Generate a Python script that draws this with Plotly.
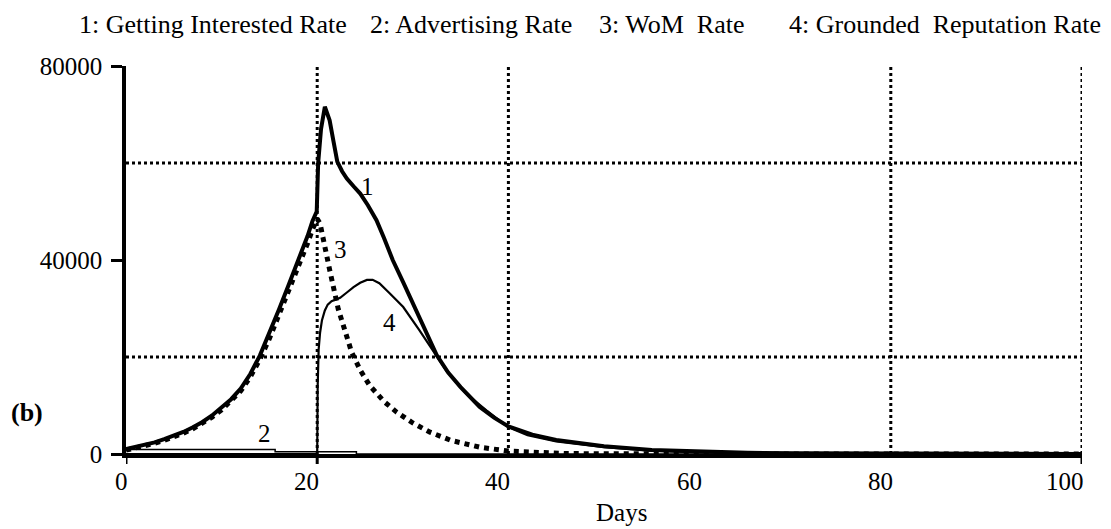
import plotly.graph_objects as go

# ---------------- data ----------------
days_interest = [0, 1, 2, 3, 4, 5, 6, 7, 8, 9, 10, 11, 12, 13, 14, 15, 16, 17, 18, 19, 19.5, 19.95,
                 20.1, 20.4, 20.8, 21.3, 21.7, 22.1, 22.6, 23.1, 23.8, 24.5, 25.3, 26.2, 27, 27.9,
                 29, 30, 31.2, 32.5, 33.7, 35, 37, 38.5, 40, 42.5,
                 45, 47.5, 50, 55, 60, 65, 70, 80, 90, 100]
getting_interested = [1000, 1400, 1850, 2400, 3050, 3750, 4550, 5500, 6600, 7950, 9500, 11300, 13500,
                      16500, 20300, 24800, 29800, 34800, 39800, 45000, 48000, 50000,
                      60000, 67000, 71600, 68800, 64500, 60300, 58300, 56800, 55200, 53700, 51300,
                      48200, 44500, 40000, 35400, 31000, 25700, 20400, 16800, 13800, 9700, 7500,
                      5700, 4000, 2900, 2200, 1600, 850, 450, 250, 130, 40, 15, 5]

days_adv = [0, 15.6, 15.6, 24.1, 24.1, 100]
advertising = [950, 950, 450, 450, 0, 0]

days_wom = [0, 1, 2, 3, 4, 5, 6, 7, 8, 9, 10, 11, 12, 13, 14, 15, 16, 17, 18, 19, 19.5, 20,
            20.3, 20.7, 21, 21.3, 22.2, 23, 23.6, 24.5, 25.5, 27, 28.3, 30, 31.8, 34, 37, 40,
            43, 46, 50, 60, 100]
wom = [800, 1200, 1650, 2200, 2800, 3500, 4300, 5200, 6300, 7600, 9100, 10900, 13000, 15900, 19500,
       23800, 28600, 33500, 38500, 43500, 46300, 48500,
       47500, 44000, 41600, 38000, 29900, 24500, 21000, 17300, 14100, 10800, 8650, 6400, 4500,
       2800, 1400, 600, 250, 100, 40, 5, 0]

days_grounded = [0, 20, 20.05, 20.15, 20.3, 20.5, 20.8, 21.1, 21.5, 22.4, 23.1, 23.8, 24.5, 25.2, 25.8,
                 26.5, 27.6, 29, 30.7, 32.1, 33.5, 35.6, 37.7, 40, 42, 45, 50, 55, 60, 70, 100]
grounded = [0, 0, 14000, 21500, 25000, 27600, 29600, 30800, 31500, 32200, 33300, 34400, 35300, 35900,
            35900, 35200, 33100, 30300, 25500, 21400, 17200, 12400, 9000, 5500, 3900, 2600, 1400,
            700, 350, 80, 10]

legend_items = ["1: Getting Interested Rate", "2: Advertising Rate",
                "3: WoM  Rate", "4: Grounded  Reputation Rate"]
x_tick_vals = [0, 20, 40, 60, 80, 100]
y_tick_vals = [0, 40000, 80000]
y_tick_text = ["0", "40000", "80000"]
x_grid = [20, 40, 80, 100]
y_grid = [20000, 60000]

# ---------------- figure ----------------
SERIF = "Liberation Serif"
W, H = 1111, 529
ML, MR, MT, MB = 126, 29, 66, 75
plot_w = W - ML - MR
plot_h = H - MT - MB

fig = go.Figure()

fig.add_trace(go.Scatter(x=days_adv, y=advertising, mode="lines",
                         line=dict(color="black", width=1.5), name="2"))
fig.add_trace(go.Scatter(x=days_wom, y=wom, mode="lines",
                         line=dict(color="black", width=5, dash="5px,5px"), name="3"))
fig.add_trace(go.Scatter(x=days_grounded, y=grounded, mode="lines",
                         line=dict(color="black", width=2.2), name="4"))
fig.add_trace(go.Scatter(x=days_interest, y=getting_interested, mode="lines",
                         line=dict(color="black", width=4), name="1"))

# dotted grid
shapes = []
for g in x_grid:
    shapes.append(dict(type="line", xref="x", yref="y", x0=g, x1=g, y0=0, y1=80000,
                       line=dict(color="black", width=3, dash="3px,3px"), layer="below"))
for g in y_grid:
    shapes.append(dict(type="line", xref="x", yref="y", x0=0, x1=100, y0=g, y1=g,
                       line=dict(color="black", width=3, dash="3px,3px"), layer="below"))

annotations = []
# x tick labels, right-aligned to their ticks
for v in x_tick_vals:
    annotations.append(dict(x=v, xref="x", y=0, yref="paper", text=str(v), showarrow=False,
                            xanchor="right", yanchor="top", xshift=4, yshift=-12,
                            font=dict(family=SERIF, size=25, color="black")))
annotations.append(dict(x=(621 - ML) / plot_w, xref="paper", y=0, yref="paper", text="Days",
                        showarrow=False, xanchor="center", yanchor="middle", yshift=-58,
                        font=dict(family=SERIF, size=25, color="black")))
annotations.append(dict(x=(27 - ML) / plot_w, xref="paper", y=(H - MB - 412) / plot_h, yref="paper",
                        text="<b>(b)</b>", showarrow=False, xanchor="center", yanchor="middle",
                        font=dict(family=SERIF, size=26, color="black")))
# top legend line
legend_y = 1 + (MT - 25) / plot_h
for txt, px, anchor in zip(legend_items, [77, 368, 597, 1103], ["left", "left", "left", "right"]):
    annotations.append(dict(x=(px - ML) / plot_w, xref="paper", y=legend_y, yref="paper",
                            text=txt, showarrow=False, xanchor=anchor, yanchor="middle",
                            font=dict(family=SERIF, size=26, color="black")))
# curve number labels
for txt, dx, dy in [("1", 25.3, 55100), ("2", 14.5, 4200), ("3", 22.4, 42200), ("4", 27.6, 27200)]:
    annotations.append(dict(x=dx, y=dy, xref="x", yref="y", text=txt, showarrow=False,
                            xanchor="center", yanchor="middle",
                            font=dict(family=SERIF, size=25, color="black")))

# x tick marks at 0, 20, 100
for v in [0, 20, 100]:
    shapes.append(dict(type="line", xref="x", yref="paper", x0=v, x1=v, y0=0, y1=-10 / plot_h,
                       line=dict(color="black", width=3)))

fig.update_layout(
    width=W, height=H,
    margin=dict(l=ML, r=MR, t=MT, b=MB),
    paper_bgcolor="white", plot_bgcolor="white",
    showlegend=False,
    shapes=shapes, annotations=annotations,
    xaxis=dict(range=[0, 100], showgrid=False, zeroline=False, showline=True,
               linecolor="black", linewidth=4, showticklabels=False, ticks=""),
    yaxis=dict(range=[0, 80000], showgrid=False, zeroline=False, showline=True,
               linecolor="black", linewidth=3.5, tickvals=y_tick_vals, ticktext=y_tick_text,
               ticks="outside", ticklen=11, tickwidth=3, tickcolor="black",
               ticklabelstandoff=4,
               tickfont=dict(family=SERIF, size=25, color="black")),
)

fig.write_html("out.html")
